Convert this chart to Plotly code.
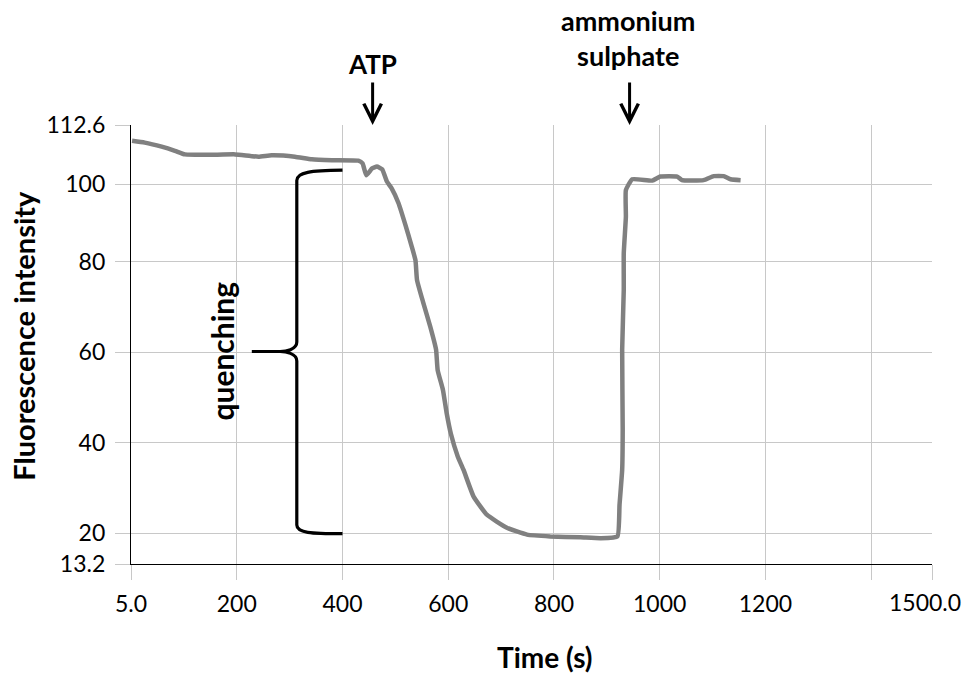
import plotly.graph_objects as go

# Fluorescence trace (time in s, intensity in axis units)
time_s = [2, 26, 58, 83, 102, 146, 197, 241, 266, 310,
          342, 380, 430, 438, 445, 456, 465, 475, 484, 493,
          506, 519, 531, 538, 541, 553, 566, 577, 580, 590,
          597, 605, 618, 629, 648, 673, 711, 749, 793, 850,
          888, 920, 924, 929, 930, 929, 932, 932, 936, 936,
          948, 986, 1001, 1033, 1042, 1083, 1102, 1121, 1134, 1153]
fluorescence = [106.8, 106.4, 105.5, 104.6, 103.8, 103.7, 103.8, 103.3, 103.6, 103.3,
                102.7, 102.5, 102.4, 101.8, 99.2, 100.7, 101.1, 100.5, 97.8, 96.3,
                93.0, 88.2, 83.4, 80.4, 76.0, 70.9, 65.7, 60.6, 56.1, 51.7,
                46.6, 42.0, 37.0, 34.0, 28.1, 24.1, 21.2, 19.7, 19.3, 19.1,
                18.9, 19.3, 26.3, 34.0, 42.9, 60.6, 73.8, 81.9, 90.0, 95.9,
                98.3, 98.0, 98.9, 98.9, 98.1, 98.1, 99.0, 99.0, 98.3, 98.1]

# Axis ticks (the end label is drawn right-aligned so it stays on the page)
x_tick_vals = [0, 200, 400, 600, 800, 1000, 1200, 1400, 1515]
x_tick_text = ["5.0", "200", "400", "600", "800", "1000", "1200", "", ""]
x_end_label = "1500.0"
y_tick_vals = [13.2, 20, 40, 60, 80, 97.2, 110.3]
y_tick_text = ["13.2", "20", "40", "60", "80", "100", "112.6"]

# Additions marked on the trace
additions = ["ATP", "ammonium<br>sulphate"]
addition_times = [457, 943]

FONT = "Lato"
GRID = "#c8c8c8"

fig = go.Figure()

fig.add_trace(go.Scatter(
    x=time_s, y=fluorescence, mode="lines",
    line=dict(color="#808080", width=4.5, shape="spline", smoothing=0.4),
    hoverinfo="skip", showlegend=False,
))

# Curly brace spanning the quenched range
brace = ("M 400,100.3 C 340,100.2 313.6,99.9 313.6,98.0 "
         "L 313.6,62.3 C 313.6,60.6 292,60.2 282,60.2 L 228.5,60.2 "
         "L 282,60.2 C 292,60.2 313.6,59.8 313.6,58.1 "
         "L 313.6,21.8 C 313.6,20.1 340,19.9 400,19.9")
fig.add_shape(type="path", path=brace, xref="x", yref="y",
              line=dict(color="black", width=3.2), layer="above")


def label(text, x, y, size, xref="paper", yref="paper", angle=0, **kw):
    opts = dict(xanchor="center", yanchor="middle")
    opts.update(kw)
    fig.add_annotation(text=text, x=x, y=y, xref=xref, yref=yref,
                       textangle=angle, showarrow=False,
                       font=dict(family=FONT, size=size, color="black"), **opts)


label("<b>quenching</b>", 0.1124, 60.2, 30, yref="y", angle=-90)

for t in addition_times:
    fig.add_annotation(x=t, xref="x", y=1.0, yref="paper", text="",
                       showarrow=True, ax=0, ay=-44, axref="pixel", ayref="pixel",
                       arrowhead=5, arrowsize=1.15, arrowwidth=3,
                       arrowcolor="black", standoff=0, startstandoff=0)

label("<b>" + additions[0] + "</b>", addition_times[0], 1.1395, 26, xref="x")
label("<b>" + additions[1] + "</b>", addition_times[1] - 3, 1.1975, 27, xref="x")

# Right-hand end label of the time axis
label(x_end_label, x_tick_vals[-1], 0, 23, xref="x",
      xanchor="right", xshift=31, yshift=-38)

# Axis titles
label("<b>Time (s)</b>", 0.517, -0.211, 28)
label("<b>Fluorescence intensity</b>", -0.1336, 0.52, 29, angle=-90)

axis_style = dict(tickmode="array", showgrid=True, gridcolor=GRID, gridwidth=1,
                  ticks="outside", ticklen=15, tickcolor=GRID, tickwidth=1,
                  showline=True, linecolor="black", linewidth=1.3,
                  zeroline=False, automargin=False,
                  tickfont=dict(family=FONT, size=23, color="black"))

fig.update_xaxes(range=[0, 1515], tickvals=x_tick_vals, ticktext=x_tick_text,
                 ticklabelstandoff=4, **axis_style)
fig.update_yaxes(range=[13.2, 110.3], tickvals=y_tick_vals, ticktext=y_tick_text,
                 ticklabelstandoff=5, **axis_style)

fig.update_layout(
    width=968, height=674, autosize=False,
    margin=dict(l=131, r=36, t=125, b=110),
    plot_bgcolor="white", paper_bgcolor="white",
    font=dict(family=FONT),
)

fig.write_html("out.html")
